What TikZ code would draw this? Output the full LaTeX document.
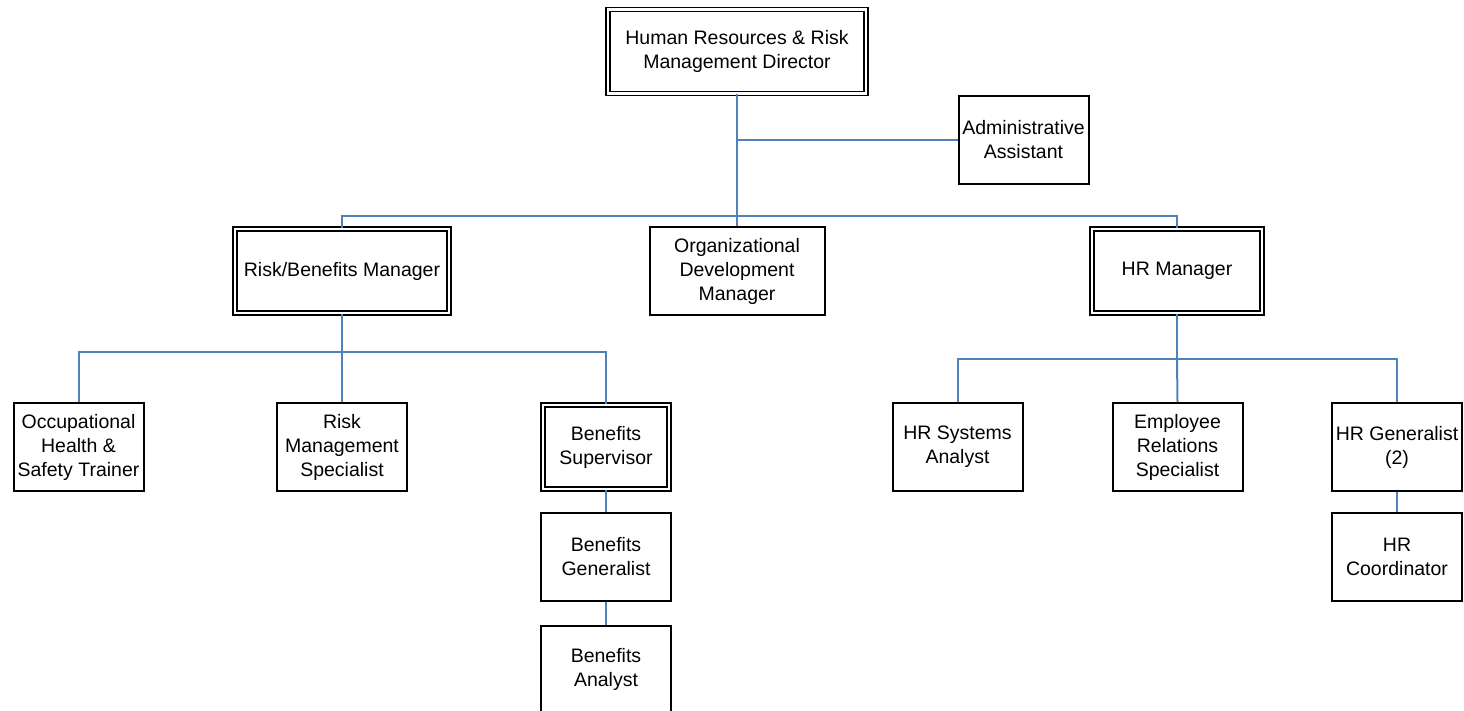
\documentclass[tikz,border=0pt]{standalone}
\usepackage{fontspec}
\setmainfont{Liberation Sans}
\definecolor{linkblue}{RGB}{79,129,189}
\begin{document}
\begin{tikzpicture}[x=1pt,y=-1pt,line join=miter,
  font=\fontsize{19.5}{24}\selectfont,
  box/.style={draw=black,line width=2pt,fill=white,align=center,inner sep=0pt,
    minimum width=130pt,minimum height=88pt},
  dbox/.style={box,line width=1.4pt,double=white,double distance=2.6pt,
    minimum height=84pt},
  link/.style={draw=linkblue,line width=2pt}]
  \useasboundingbox (0,0) rectangle (1464,710);
  % top level
  \node[dbox,minimum width=258pt] (dir) at (737,51.5) {Human Resources \& Risk\\Management Director};
  \node[box,minimum width=130pt] (adm) at (1023.5,139.5) {Administrative\\Assistant};
  % managers
  \node[dbox,minimum width=214pt] (rbm) at (342,271) {Risk/Benefits Manager};
  \node[box,minimum width=175pt] (odm) at (737,271) {Organizational\\Development\\Manager};
  \node[dbox,minimum width=170pt] (hrm) at (1177,271) {HR Manager};
  % risk/benefits staff
  \node[box] (ohs) at (78.5,447) {Occupational\\Health \&\\Safety Trainer};
  \node[box] (rms) at (342,447) {Risk\\Management\\Specialist};
  \node[dbox,minimum width=126pt] (bsu) at (606,447) {Benefits\\Supervisor};
  \node[box] (bge) at (606,557) {Benefits\\Generalist};
  \node[box,minimum height=86pt] (ban) at (606,669) {Benefits\\Analyst};
  % HR staff
  \node[box] (hsa) at (957.5,447) {HR Systems\\Analyst};
  \node[box] (ers) at (1177.5,447) {Employee\\Relations\\Specialist};
  \node[box] (hrg) at (1397,447) {HR Generalist\\(2)};
  \node[box] (hrc) at (1397,557) {HR\\Coordinator};
  % buses
  \coordinate (bus1) at (737,216);
  \coordinate (bus2) at (342,352);
  \coordinate (bus3) at (1177,359);
  % connectors
  \path[link] (dir.south) -- (odm.north);
  \path[link] (adm.west) -- (adm.west -| dir.south);
  \path[link] (rbm.north) |- (bus1) -| (hrm.north);
  \path[link] (rbm.south) -- (bus2);
  \path[link] (ohs.north) |- (bus2) -| (bsu.north);
  \path[link] (bus2) -- (rms.north);
  \path[link] (bsu.south) -- (bge.north);
  \path[link] (bge.south) -- (ban.north);
  \path[link] (hrm.south) -- (bus3);
  \path[link] (hsa.north) |- (bus3) -| (hrg.north);
  \path[link] (bus3) -- (ers.north);
  \path[link] (hrg.south) -- (hrc.north);
\end{tikzpicture}
\end{document}
